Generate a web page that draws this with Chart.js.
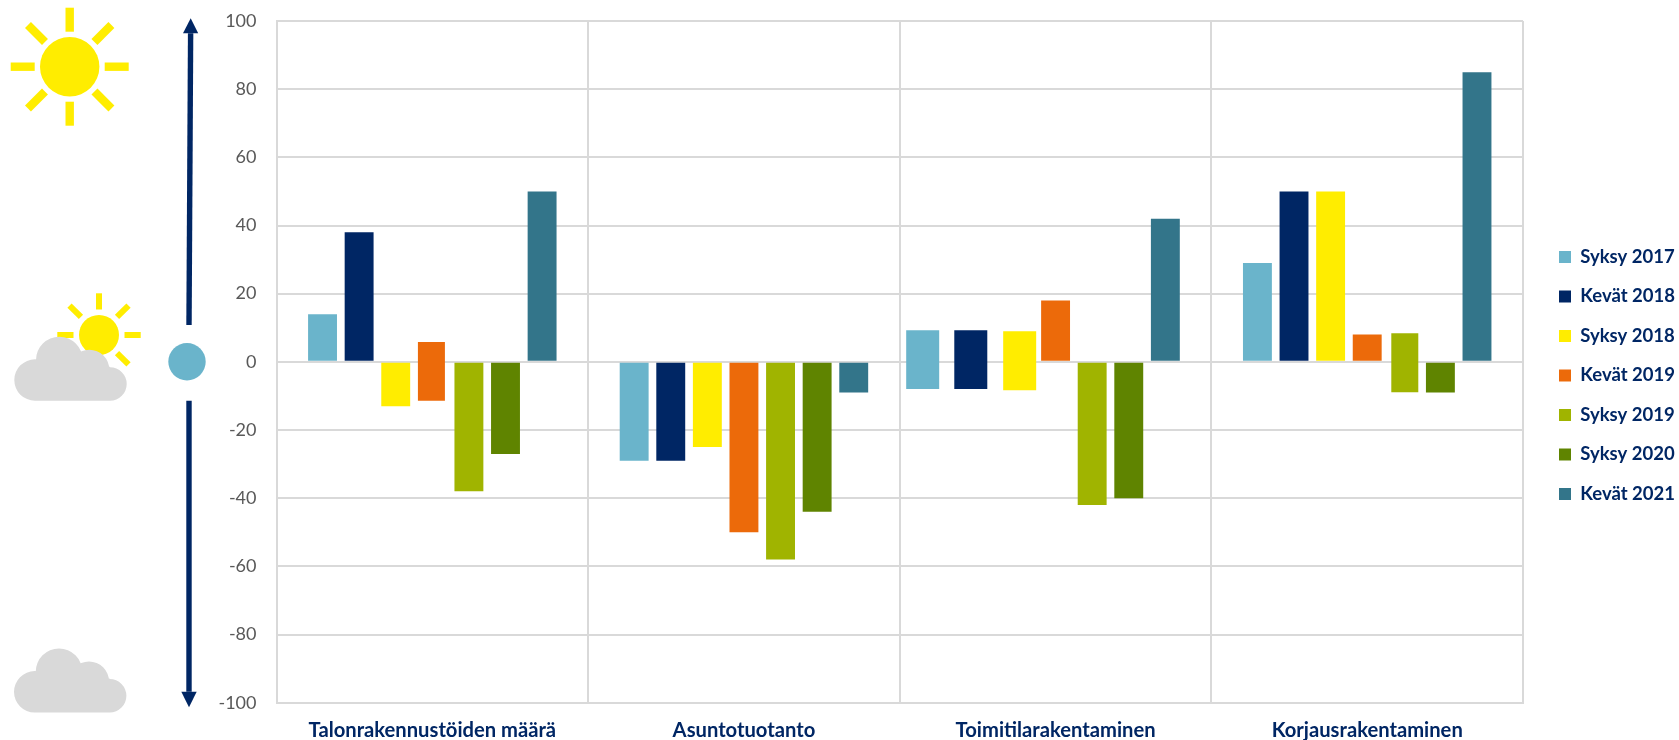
<!DOCTYPE html>
<html lang="fi">
<head>
<meta charset="utf-8">
<title>Rakennusalan suhdannenäkymät</title>
<script src="https://cdn.jsdelivr.net/npm/chart.js@4"></script>
<style>
  html, body { margin: 0; padding: 0; background: #fff; }
  canvas { display: block; }
</style>
</head>
<body>
<canvas id="chart" width="1679" height="740"></canvas>
<script>
// Saldoluvut: [ala, ylä] where one survey round spans both sides of zero.
const categories = ['Talonrakennustöiden määrä', 'Asuntotuotanto', 'Toimitilarakentaminen', 'Korjausrakentaminen'];
const syksy2017 = [14, -29, [-8, 9.3], 29];
const kevat2018 = [38, -29, [-8, 9.3], 50];
const syksy2018 = [-13, -25, [-8.3, 9], 50];
const kevat2019 = [[-11.4, 5.8], -50, 18, 8];
const syksy2019 = [-38, -58, -42, [-8.9, 8.4]];
const syksy2020 = [-27, -44, -40, -9];
const kevat2021 = [50, -9, 42, 85];
const yTicks = [100, 80, 60, 40, 20, 0, -20, -40, -60, -80, -100];

const NAVY = '#002664';
const GRID = '#D9D9D9';
const CLOUD = '#D9D9D9';
const SUN = '#FFED00';
const TEAL = '#6AB4CB';

const seriesList = [
  { label: 'Syksy 2017', data: syksy2017, color: TEAL },
  { label: 'Kevät 2018', data: kevat2018, color: '#002664' },
  { label: 'Syksy 2018', data: syksy2018, color: '#FFED00' },
  { label: 'Kevät 2019', data: kevat2019, color: '#EC6A0A' },
  { label: 'Syksy 2019', data: syksy2019, color: '#A0B400' },
  { label: 'Syksy 2020', data: syksy2020, color: '#5F8400' },
  { label: 'Kevät 2021', data: kevat2021, color: '#33758A' }
];

// A few bars were set wider or off their slot in the layout.
const barAdjustments = [
  { series: 3, cat: 0, dx: -0.9, width: 27 },
  { series: 0, cat: 2, dx: -23.1, width: 33 },
  { series: 1, cat: 2, dx: -11.6, width: 33 },
  { series: 2, cat: 2, dx: 0.7, width: 33 },
  { series: 4, cat: 3, dx: 1, width: 27 }
];

const adjustBars = {
  id: 'adjustBars',
  afterDatasetsUpdate(chart) {
    for (const a of barAdjustments) {
      const bar = chart.getDatasetMeta(a.series).data[a.cat];
      bar.x += a.dx;
      bar.width = a.width;
    }
  }
};

const placeLegend = {
  id: 'placeLegend',
  afterLayout(chart) {
    const lg = chart.legend;
    const dx = 15, dy = -5;
    lg.left += dx; lg.right += dx;
    lg.top += dy; lg.bottom += dy;
    lg.legendHitBoxes.forEach(h => { h.left += dx; h.top += dy; });
  }
};

function drawSun(ctx, cx, cy, r, r0, r1, w) {
  ctx.save();
  ctx.fillStyle = SUN;
  ctx.strokeStyle = SUN;
  ctx.lineWidth = w;
  for (let i = 0; i < 8; i++) {
    const a = i * Math.PI / 4;
    ctx.beginPath();
    ctx.moveTo(cx + Math.cos(a) * r0, cy + Math.sin(a) * r0);
    ctx.lineTo(cx + Math.cos(a) * r1, cy + Math.sin(a) * r1);
    ctx.stroke();
  }
  ctx.beginPath();
  ctx.arc(cx, cy, r, 0, Math.PI * 2);
  ctx.fill();
  ctx.restore();
}

function drawCloud(ctx, x, y) {
  ctx.save();
  ctx.fillStyle = CLOUD;
  const lobes = [[21.7, 43.3, 20.7], [46, 23.3, 23.3], [76, 33, 20], [96.7, 47.3, 16.7]];
  ctx.beginPath();
  for (const [lx, ly, lr] of lobes) {
    ctx.moveTo(x + lx + lr, y + ly);
    ctx.arc(x + lx, y + ly, lr, 0, Math.PI * 2);
  }
  ctx.rect(x + 21.7, y + 30, 75, 34);
  ctx.fill();
  ctx.restore();
}

function drawArrow(ctx, x0, y0, x1, y1, headLen, headHalf) {
  const ang = Math.atan2(y1 - y0, x1 - x0);
  const bx = x1 - Math.cos(ang) * headLen;
  const by = y1 - Math.sin(ang) * headLen;
  ctx.save();
  ctx.strokeStyle = NAVY;
  ctx.fillStyle = NAVY;
  ctx.lineWidth = 5.4;
  ctx.beginPath();
  ctx.moveTo(x0, y0);
  ctx.lineTo(bx, by);
  ctx.stroke();
  ctx.beginPath();
  ctx.moveTo(x1, y1);
  ctx.lineTo(bx - Math.sin(ang) * headHalf, by + Math.cos(ang) * headHalf);
  ctx.lineTo(bx + Math.sin(ang) * headHalf, by - Math.cos(ang) * headHalf);
  ctx.closePath();
  ctx.fill();
  ctx.restore();
}

// Mood scale beside the value axis: sun, part cloud, cloud, with arrows around the neutral dot.
const moodScale = {
  id: 'moodScale',
  afterDraw(chart) {
    const ctx = chart.ctx;
    drawSun(ctx, 69.7, 66.7, 29.7, 35, 59, 8.4);
    drawSun(ctx, 99, 335, 20, 25.5, 41.7, 6);
    drawCloud(ctx, 13.3, 336.7);
    drawCloud(ctx, 13, 648.5);
    drawArrow(ctx, 189, 325, 190.7, 18.3, 15, 7.6);
    drawArrow(ctx, 189, 400.7, 189, 707.3, 15.5, 7.7);
    ctx.save();
    ctx.fillStyle = TEAL;
    ctx.beginPath();
    ctx.arc(187, 361.7, 18.7, 0, Math.PI * 2);
    ctx.fill();
    ctx.restore();
  }
};

new Chart(document.getElementById('chart'), {
  type: 'bar',
  data: {
    labels: categories,
    datasets: seriesList.map(s => ({
      label: s.label,
      data: s.data,
      backgroundColor: s.color,
      borderWidth: 0,
      borderSkipped: false,
      barPercentage: 0.79,
      categoryPercentage: 0.822
    }))
  },
  plugins: [adjustBars, placeLegend, moodScale],
  options: {
    responsive: false,
    animation: false,
    layout: { padding: { left: 0, top: 21, right: 9, bottom: 0 } },
    plugins: {
      tooltip: { enabled: false },
      title: { display: false },
      legend: {
        position: 'right',
        align: 'center',
        labels: {
          boxWidth: 12,
          boxHeight: 12,
          padding: 21,
          color: NAVY,
          font: { family: 'Lato', size: 18.5, weight: 'bold' }
        }
      }
    },
    scales: {
      x: {
        offset: true,
        border: { color: GRID, width: 2 },
        grid: { color: GRID, lineWidth: 2, drawTicks: false },
        ticks: {
          autoSkip: false,
          maxRotation: 0,
          padding: 16,
          color: NAVY,
          font: { family: 'Lato', size: 20.2, weight: 'bold' }
        },
        afterFit(scale) {
          scale.height = 37.3;
          scale.paddingLeft = 0;
          scale.paddingRight = 0;
        }
      },
      y: {
        min: -100,
        max: 100,
        afterBuildTicks(scale) {
          scale.ticks = yTicks.map(v => ({ value: v }));
        },
        border: { color: GRID, width: 2 },
        grid: { color: GRID, lineWidth: 2, drawTicks: false },
        ticks: {
          padding: 20,
          color: '#595959',
          font: { family: 'Lato', size: 18 }
        },
        afterFit(scale) {
          scale.width = 276.5;
          scale.paddingTop = 0;
          scale.paddingBottom = 0;
        }
      }
    }
  }
});
</script>
</body>
</html>
